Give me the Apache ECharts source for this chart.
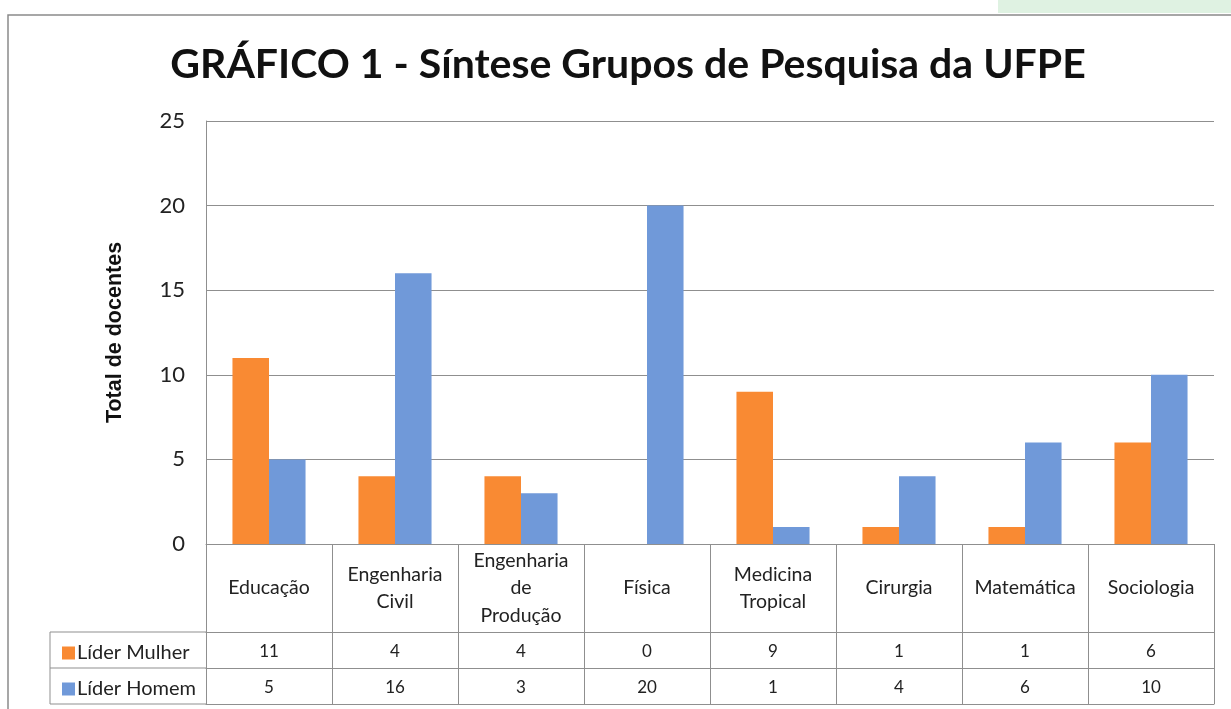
<!DOCTYPE html>
<html><head><meta charset="utf-8">
<script src="https://cdn.jsdelivr.net/npm/echarts@6/dist/echarts.min.js"></script>
<style>html,body{margin:0;padding:0;background:#fff}#c{width:1231px;height:709px}</style>
</head><body><div id="c"></div>
<script>
const categories = ['Educação','Engenharia\nCivil','Engenharia\nde\nProdução','Física','Medicina\nTropical','Cirurgia','Matemática','Sociologia'];
const liderMulher = [11, 4, 4, 0, 9, 1, 1, 6];
const liderHomem = [5, 16, 3, 20, 1, 4, 6, 10];
const seriesNames = ['Líder Mulher', 'Líder Homem'];
const yTicks = {min: 0, max: 25, interval: 5};

const ORANGE = '#F98A33', BLUE = '#7099D9', LINE = '#8f8f8f';
const tableFont = 'Lato';
const chart = echarts.init(document.getElementById('c'), null, {renderer: 'canvas'});

function rowAxis(values, offset, showLabel) {
  return {
    type: 'category', position: 'bottom', offset: offset, data: categories,
    axisLine: {show: true, lineStyle: {color: LINE, width: 1}},
    axisTick: {show: false},
    axisLabel: {show: showLabel, interval: 0, margin: 20, verticalAlign: 'middle',
      fontFamily: tableFont, fontSize: 17, color: '#222',
      formatter: (v, i) => values ? String(values[i]) : ''},
    splitLine: {show: false}
  };
}

chart.setOption({
  animation: false,
  backgroundColor: '#fff',
  title: {
    text: 'GRÁFICO 1 - Síntese Grupos de Pesquisa da UFPE',
    left: 623, top: 39, textAlign: 'center',
    textStyle: {fontFamily: 'Lato', fontWeight: 'bold', fontSize: 41, color: '#111'}
  },
  legend: {
    orient: 'vertical', left: 57, top: 638, itemGap: 16,
    icon: 'rect', itemWidth: 13, itemHeight: 13,
    textStyle: {fontFamily: 'Lato', fontSize: 20, color: '#222', padding: [0,0,0,-3]},
    data: seriesNames
  },
  grid: {left: 206, right: 17, top: 121, bottom: 165, containLabel: false},
  xAxis: [
    {
      type: 'category', position: 'bottom', data: categories,
      axisLine: {show: true, lineStyle: {color: LINE, width: 1}},
      axisTick: {show: true, interval: 0, length: 160, lineStyle: {color: LINE, width: 1}},
      axisLabel: {interval: 0, margin: 44, verticalAlign: 'middle', lineHeight: 27.5,
        fontFamily: tableFont, fontSize: 19.5, color: '#222'},
      splitLine: {show: false}
    },
    rowAxis(liderMulher, 88, true),
    rowAxis(liderHomem, 124, true),
    rowAxis(null, 160, false)
  ],
  yAxis: {
    type: 'value', min: yTicks.min, max: yTicks.max, interval: yTicks.interval,
    name: 'Total de docentes', nameLocation: 'middle', nameGap: 80, nameRotate: 90,
    nameTextStyle: {fontFamily: 'Liberation Sans', fontWeight: 'bold', fontSize: 21.5, color: '#111'},
    axisLine: {show: true, lineStyle: {color: LINE}},
    axisTick: {show: false},
    axisLabel: {margin: 21, fontFamily: 'Lato', fontSize: 22, color: '#222'},
    splitLine: {lineStyle: {color: LINE}}
  },
  series: [
    {name: seriesNames[0], type: 'bar', xAxisIndex: 0, data: liderMulher,
     itemStyle: {color: ORANGE}, barGap: '0%', barCategoryGap: '42%'},
    {name: seriesNames[1], type: 'bar', xAxisIndex: 0, data: liderHomem,
     itemStyle: {color: BLUE}, barGap: '0%', barCategoryGap: '42%'}
  ],
  graphic: [
    {type: 'polygon', shape: {points: [[998,0],[1231,0],[1231,13],[998,13]]}, style: {fill: '#dff2e2'}, silent: true},
    {type: 'polyline', shape: {points: [[8,709],[8,15],[1231,15]]}, style: {stroke: '#8a8a8a', lineWidth: 1.5, fill: null}, silent: true},
    {type: 'line', shape: {x1: 50, y1: 632, x2: 206, y2: 632}, style: {stroke: LINE, lineWidth: 1}, silent: true},
    {type: 'line', shape: {x1: 50, y1: 668, x2: 206, y2: 668}, style: {stroke: LINE, lineWidth: 1}, silent: true},
    {type: 'line', shape: {x1: 50, y1: 704, x2: 206, y2: 704}, style: {stroke: LINE, lineWidth: 1}, silent: true},
    {type: 'line', shape: {x1: 50, y1: 632, x2: 50, y2: 704}, style: {stroke: LINE, lineWidth: 1}, silent: true}
  ]
});
</script></body></html>
